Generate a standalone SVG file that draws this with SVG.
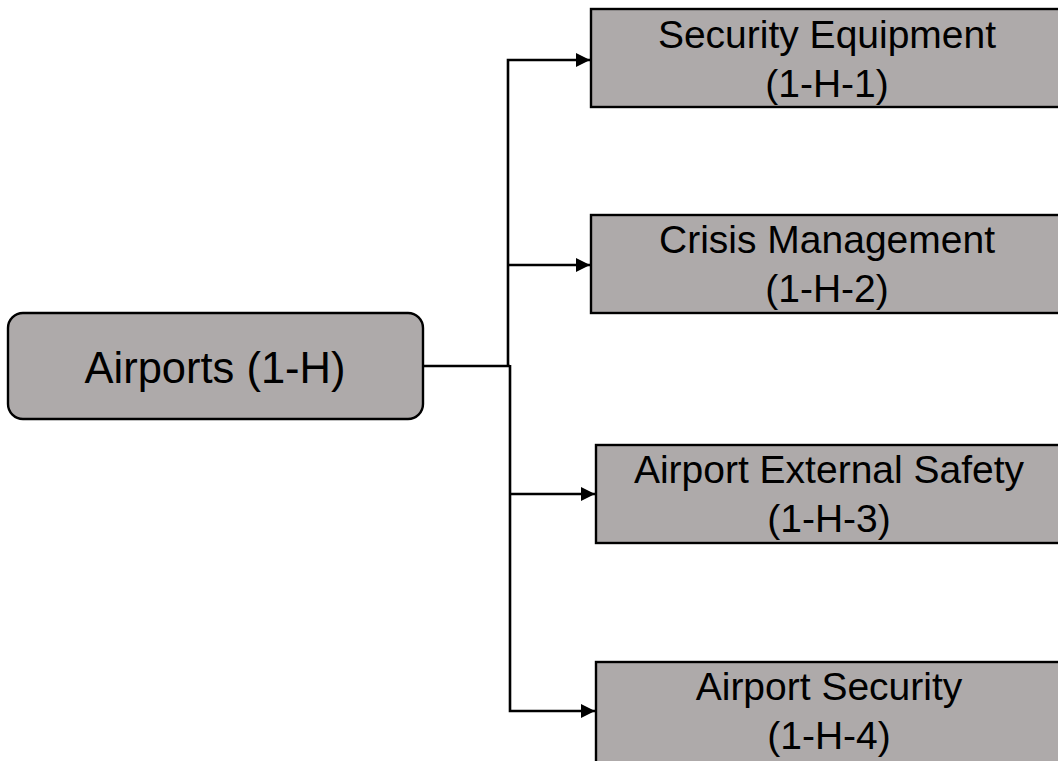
<svg xmlns="http://www.w3.org/2000/svg" width="1058" height="761" viewBox="0 0 1058 761">
  <style>
    .box { fill: #AEAAAA; stroke: #000; stroke-width: 2.4; }
    .lbl { font-family: "Liberation Sans", Arial, sans-serif; fill: #000; text-anchor: middle; }
    .root { font-size: 43.5px; }
    .child { font-size: 39px; }
    .wire { fill: none; stroke: #000; stroke-width: 2.6; }
  </style>
  <defs>
    <marker id="arrow" markerUnits="userSpaceOnUse" markerWidth="15" markerHeight="15" refX="14" refY="7" orient="auto">
      <path d="M0,0 L14,7 L0,14 z" fill="#000"/>
    </marker>
  </defs>
  <rect width="1058" height="761" fill="#fff"/>

  <!-- connectors -->
  <g id="connectors">
    <path class="wire" d="M423,366 H510"/>
    <path class="wire" d="M508,367 V60 H590" marker-end="url(#arrow)"/>
    <path class="wire" d="M508,265 H590" marker-end="url(#arrow)"/>
    <path class="wire" d="M510,365 V711 H595" marker-end="url(#arrow)"/>
    <path class="wire" d="M510,494 H595" marker-end="url(#arrow)"/>
  </g>

  <!-- root node -->
  <g id="node-airports">
    <rect class="box" x="8" y="313" width="415" height="106" rx="15" ry="15"/>
    <text class="lbl root" x="215" y="383">Airports (1-H)</text>
  </g>

  <!-- child nodes -->
  <g id="node-security-equipment">
    <rect class="box" x="591" y="9" width="475" height="98"/>
    <text class="lbl child" x="827" y="48">Security Equipment</text>
    <text class="lbl child" x="827" y="97">(1-H-1)</text>
  </g>
  <g id="node-crisis-management">
    <rect class="box" x="591" y="215" width="475" height="98"/>
    <text class="lbl child" x="827" y="253">Crisis Management</text>
    <text class="lbl child" x="827" y="302">(1-H-2)</text>
  </g>
  <g id="node-external-safety">
    <rect class="box" x="596" y="445" width="470" height="98"/>
    <text class="lbl child" x="829" y="483">Airport External Safety</text>
    <text class="lbl child" x="829" y="532">(1-H-3)</text>
  </g>
  <g id="node-airport-security">
    <rect class="box" x="596" y="662" width="470" height="110"/>
    <text class="lbl child" x="829" y="700">Airport Security</text>
    <text class="lbl child" x="829" y="749">(1-H-4)</text>
  </g>
</svg>
